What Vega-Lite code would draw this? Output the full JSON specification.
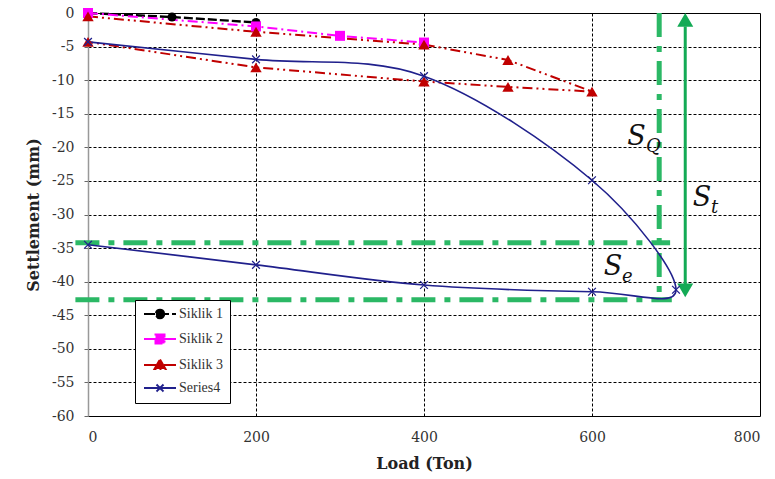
{
  "$schema": "https://vega.github.io/schema/vega-lite/v6.json",
  "width": 672,
  "height": 403,
  "autosize": {"type": "none"},
  "padding": {"left": 88, "top": 13, "right": 15, "bottom": 63},
  "background": "white",
  "config": {
    "view": {"stroke": "#000", "strokeWidth": 1},
    "font": "DejaVu Serif"
  },
  "datasets": {
    "main": [
      {"series": "Siklik 1", "i": 0, "load": 0, "s": 0},
      {"series": "Siklik 1", "i": 1, "load": 100, "s": -0.6},
      {"series": "Siklik 1", "i": 2, "load": 200, "s": -1.4},
      {"series": "Siklik 2", "i": 0, "load": 0, "s": 0},
      {"series": "Siklik 2", "i": 1, "load": 200, "s": -2.0},
      {"series": "Siklik 2", "i": 2, "load": 300, "s": -3.4},
      {"series": "Siklik 2", "i": 3, "load": 400, "s": -4.4},
      {"series": "Siklik 3", "i": 0, "load": 0, "s": -0.5},
      {"series": "Siklik 3", "i": 1, "load": 200, "s": -2.8},
      {"series": "Siklik 3", "i": 2, "load": 400, "s": -4.7},
      {"series": "Siklik 3", "i": 3, "load": 500, "s": -7.0},
      {"series": "Siklik 3", "i": 4, "load": 600, "s": -11.7},
      {"series": "Siklik 3", "i": 5, "load": 500, "s": -11.0},
      {"series": "Siklik 3", "i": 6, "load": 400, "s": -10.2},
      {"series": "Siklik 3", "i": 7, "load": 200, "s": -8.1},
      {"series": "Siklik 3", "i": 8, "load": 0, "s": -4.3},
      {"series": "Series4", "i": 0, "load": 0, "s": -4.3},
      {"series": "Series4", "i": 1, "load": 200, "s": -6.9},
      {"series": "Series4", "i": 2, "load": 400, "s": -9.4},
      {"series": "Series4", "i": 3, "load": 600, "s": -24.9},
      {"series": "Series4", "i": 4, "load": 700, "s": -41.2},
      {"series": "Series4", "i": 5, "load": 600, "s": -41.5},
      {"series": "Series4", "i": 6, "load": 400, "s": -40.5},
      {"series": "Series4", "i": 7, "load": 200, "s": -37.5},
      {"series": "Series4", "i": 8, "load": 0, "s": -34.5}
    ],
    "guides": [
      {"load": -15, "s": -34.2, "load2": 693, "s2": -34.2},
      {"load": -15, "s": -42.7, "load2": 695, "s2": -42.7},
      {"load": 680, "s": 0, "load2": 680, "s2": -42.7}
    ],
    "shaft": [
      {"load": 711, "s": -2.0, "load2": 711, "s2": -40.5}
    ],
    "heads": [
      {"end": "top", "load": 711, "s": -1.03},
      {"end": "bottom", "load": 711, "s": -41.3}
    ],
    "letters": [
      {"role": "main", "txt": "S", "load": 653, "s": -18.4},
      {"role": "sub", "txt": "Q", "load": 673, "s": -19.9},
      {"role": "main", "txt": "S", "load": 731, "s": -27.5},
      {"role": "sub", "txt": "t", "load": 746, "s": -29.0},
      {"role": "main", "txt": "S", "load": 625, "s": -37.8},
      {"role": "sub", "txt": "e", "load": 642, "s": -39.3}
    ]
  },
  "encoding": {
    "x": {
      "field": "load", "type": "quantitative", "title": "Load (Ton)",
      "scale": {"domain": [0, 800], "nice": false, "zero": false},
      "axis": {
        "values": [0, 200, 400, 600, 800],
        "domain": false, "ticks": false,
        "labelPadding": 14, "labelFontSize": 14, "labelColor": "#333", "labelFont": "DejaVu Serif",
        "titleFont": "DejaVu Serif", "titleFontSize": 16, "titleFontWeight": "bold", "titleColor": "#222", "titlePadding": 11,
        "grid": true, "gridColor": "#000", "gridDash": [3, 2], "gridWidth": 1,
        "gridOpacity": {"condition": {"test": "datum.value == 0 || datum.value == 800", "value": 0}, "value": 1}
      }
    },
    "y": {
      "field": "s", "type": "quantitative", "title": "Settlement (mm)",
      "scale": {"domain": [-60, 0], "nice": false, "zero": false},
      "axis": {
        "values": [-60, -55, -50, -45, -40, -35, -30, -25, -20, -15, -10, -5, 0],
        "labelExpr": "'' + datum.value",
        "domain": true, "domainColor": "#999", "domainWidth": 1.5,
        "ticks": true, "tickSize": 4, "tickColor": "#666",
        "labelPadding": 10, "labelFontSize": 14, "labelColor": "#333", "labelFont": "DejaVu Serif",
        "titleFont": "DejaVu Serif", "titleFontSize": 16, "titleFontWeight": "bold", "titleColor": "#222", "titlePadding": 10,
        "grid": true, "gridColor": "#000", "gridDash": [3, 2], "gridWidth": 1,
        "gridOpacity": {"condition": {"test": "datum.value == 0 || datum.value == -60", "value": 0}, "value": 1}
      }
    }
  },
  "layer": [
    {
      "data": {"name": "guides"},
      "mark": {"type": "rule", "color": "#2BB865", "strokeWidth": 5, "strokeDash": [24, 9, 6, 9]},
      "encoding": {"x2": {"field": "load2"}, "y2": {"field": "s2"}}
    },
    {
      "data": {"name": "shaft"},
      "mark": {"type": "rule", "color": "#13AA55", "strokeWidth": 3},
      "encoding": {"x2": {"field": "load2"}, "y2": {"field": "s2"}}
    },
    {
      "data": {"name": "heads"},
      "transform": [{"filter": "datum.end === 'top'"}],
      "mark": {"type": "point", "shape": "triangle-up", "filled": true, "color": "#13AA55", "size": 256, "opacity": 1}
    },
    {
      "data": {"name": "heads"},
      "transform": [{"filter": "datum.end === 'bottom'"}],
      "mark": {"type": "point", "shape": "triangle-down", "filled": true, "color": "#13AA55", "size": 256, "opacity": 1}
    },
    {
      "data": {"name": "main"},
      "transform": [{"filter": "datum.series === 'Siklik 1'"}],
      "mark": {"type": "line", "strokeWidth": 2.4, "color": "#000000", "strokeDash": [9, 3]},
      "encoding": {"order": {"field": "i", "type": "quantitative"}}
    },
    {
      "data": {"name": "main"},
      "transform": [{"filter": "datum.series === 'Siklik 2'"}],
      "mark": {"type": "line", "strokeWidth": 2, "color": "#FF00FF", "strokeDash": [10, 4, 2, 4]},
      "encoding": {"order": {"field": "i", "type": "quantitative"}}
    },
    {
      "data": {"name": "main"},
      "transform": [{"filter": "datum.series === 'Siklik 3'"}],
      "mark": {"type": "line", "strokeWidth": 2, "color": "#C00000", "strokeDash": [10, 4, 2, 4, 2, 4]},
      "encoding": {"order": {"field": "i", "type": "quantitative"}}
    },
    {
      "data": {"name": "main"},
      "transform": [{"filter": "datum.series === 'Series4'"}],
      "mark": {"type": "line", "strokeWidth": 1.6, "interpolate": "cardinal", "color": "#20208C"},
      "encoding": {"order": {"field": "i", "type": "quantitative"}}
    },
    {
      "data": {"name": "main"},
      "transform": [{"filter": "datum.series === 'Siklik 1'"}],
      "mark": {"type": "point", "shape": "circle", "filled": true, "color": "#000000", "size": 80, "opacity": 1}
    },
    {
      "data": {"name": "main"},
      "transform": [{"filter": "datum.series === 'Siklik 2'"}],
      "mark": {"type": "point", "shape": "square", "filled": true, "color": "#FF00FF", "size": 100, "opacity": 1}
    },
    {
      "data": {"name": "main"},
      "transform": [{"filter": "datum.series === 'Siklik 3'"}],
      "mark": {"type": "point", "shape": "triangle-up", "filled": true, "color": "#C00000", "size": 130, "opacity": 1}
    },
    {
      "data": {"name": "main"},
      "transform": [{"filter": "datum.series === 'Series4'"}],
      "mark": {"type": "point", "shape": "M-1,-1L1,1M1,-1L-1,1", "filled": false, "color": "#20208C", "size": 60, "strokeWidth": 1.3, "opacity": 1}
    },
    {
      "data": {"name": "main"},
      "transform": [{"filter": "datum.i === 0"}],
      "mark": {"type": "point", "filled": true, "opacity": 0, "strokeWidth": 2},
      "encoding": {
        "color": {"field": "series", "type": "nominal",
          "scale": {"domain": ["Siklik 1", "Siklik 2", "Siklik 3", "Series4"], "range": ["#000000", "#FF00FF", "#C00000", "#20208C"]},
          "legend": {
            "title": null, "orient": "none", "legendX": 47, "legendY": 287,
            "padding": 7, "strokeColor": "#000", "fillColor": "#fff",
            "labelFont": "Liberation Serif", "labelFontSize": 14, "labelColor": "#333",
            "symbolSize": 100, "symbolOffset": 11, "labelOffset": 12, "rowPadding": 7,
            "symbolOpacity": 1, "symbolStrokeWidth": 2
          }},
        "stroke": {"field": "series", "type": "nominal",
          "scale": {"domain": ["Siklik 1", "Siklik 2", "Siklik 3", "Series4"], "range": ["#000000", "#FF00FF", "#C00000", "#20208C"]},
          "legend": {
            "title": null, "orient": "none", "legendX": 47, "legendY": 287,
            "padding": 7, "strokeColor": "#000", "fillColor": "#fff",
            "labelFont": "Liberation Serif", "labelFontSize": 14, "labelColor": "#333",
            "symbolSize": 100, "symbolOffset": 11, "labelOffset": 12, "rowPadding": 7,
            "symbolOpacity": 1, "symbolStrokeWidth": 2
          }},
        "strokeDash": {"field": "series", "type": "nominal",
          "scale": {"domain": ["Siklik 1", "Siklik 2", "Siklik 3", "Series4"], "range": [[11, 3], [12, 3, 2, 3], [12, 3, 2, 3], [1, 0]]},
          "legend": {
            "title": null, "orient": "none", "legendX": 47, "legendY": 287,
            "padding": 7, "strokeColor": "#000", "fillColor": "#fff",
            "labelFont": "Liberation Serif", "labelFontSize": 14, "labelColor": "#333",
            "symbolSize": 100, "symbolOffset": 11, "labelOffset": 12, "rowPadding": 7,
            "symbolOpacity": 1, "symbolStrokeWidth": 2
          }},
        "shape": {"field": "series", "type": "nominal",
          "scale": {"domain": ["Siklik 1", "Siklik 2", "Siklik 3", "Series4"],
            "range": [
              "M-3.2,0H3.2M0.85,0A0.85,0.85 0 1,1 -0.85,0A0.85,0.85 0 1,1 0.85,0Z",
              "M-3.2,0H3.2M-0.9,-0.9H0.9V0.9H-0.9Z",
              "M-3.2,0H3.2M0,-1.1L1.1,0.8H-1.1Z",
              "M-3.2,0H3.2M-0.7,-0.7L0.7,0.7M0.7,-0.7L-0.7,0.7"
            ]},
          "legend": {
            "title": null, "orient": "none", "legendX": 47, "legendY": 287,
            "padding": 7, "strokeColor": "#000", "fillColor": "#fff",
            "labelFont": "Liberation Serif", "labelFontSize": 14, "labelColor": "#333",
            "symbolSize": 100, "symbolOffset": 11, "labelOffset": 12, "rowPadding": 7,
            "symbolOpacity": 1, "symbolStrokeWidth": 2
          }}
      }
    },
    {
      "data": {"name": "letters"},
      "transform": [{"filter": "datum.role === 'main'"}],
      "mark": {"type": "text", "font": "DejaVu Serif", "fontStyle": "italic", "fontSize": 27, "color": "#111", "align": "center", "baseline": "middle"},
      "encoding": {"text": {"field": "txt"}}
    },
    {
      "data": {"name": "letters"},
      "transform": [{"filter": "datum.role === 'sub'"}],
      "mark": {"type": "text", "font": "DejaVu Serif", "fontStyle": "italic", "fontSize": 18, "color": "#111", "align": "center", "baseline": "middle"},
      "encoding": {"text": {"field": "txt"}}
    }
  ]
}
